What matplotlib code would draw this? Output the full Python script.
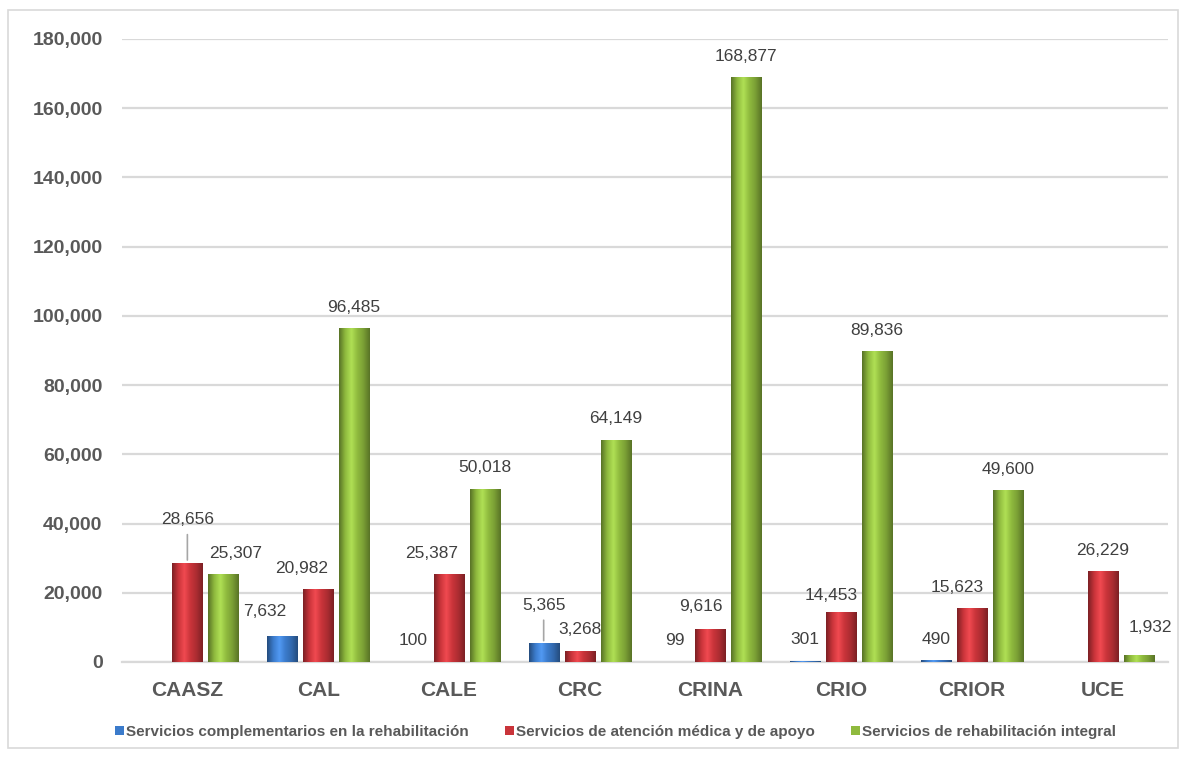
import numpy as np
import matplotlib.pyplot as plt
from matplotlib.colors import LinearSegmentedColormap, to_rgb
from matplotlib.patches import Rectangle

plt.rcParams['font.family'] = ['Liberation Sans', 'DejaVu Sans']

categories = ["CAASZ", "CAL", "CALE", "CRC", "CRINA", "CRIO", "CRIOR", "UCE"]
series_names = ["Servicios complementarios en la rehabilitación",
                "Servicios de atención médica y de apoyo",
                "Servicios de rehabilitación integral"]
complementarios = [0, 7632, 100, 5365, 99, 301, 490, 0]
atencion = [28656, 20982, 25387, 3268, 9616, 14453, 15623, 26229]
integral = [25307, 96485, 50018, 64149, 168877, 89836, 49600, 1932]
yticks = np.arange(0, 180001, 20000)

colors = ["#3b7bcb", "#c9343a", "#8fba3e"]
# label tweaks (dx, dy in pixels from bar top); leader lines where marked
label_adj = {(0, 1): (0, 43, True), (0, 2): (12, 21, False),
             (1, 0): (-17, 24, False), (1, 1): (-16, 21, False),
             (2, 1): (-17, 21, False), (3, 0): (0, 38, True),
             (4, 1): (-10, 22, False), (5, 1): (-10, 16, False),
             (6, 1): (-15, 20, False), (7, 2): (12, 28, False)}

fig = plt.figure(figsize=(11.88, 7.6), dpi=100)
ax = fig.add_axes([122/1188, 1-662/760, (1168-122)/1188, (662-39)/760])

x = np.arange(len(categories))
w = 0.23
step = 0.275
data = [complementarios, atencion, integral]


def shade(c):
    r = np.array(to_rgb(c))
    dark = r*0.62
    light = np.clip(r*1.12+0.06, 0, 1)
    return LinearSegmentedColormap.from_list("s", [dark, r, light, r, r*0.85, dark])


for i, vals in enumerate(data):
    bars = ax.bar(x+(i-1)*step, vals, width=w, color=colors[i],
                  edgecolor="none", zorder=3, label=series_names[i])
    cm = shade(colors[i])
    for j, b in enumerate(bars):
        v = vals[j]
        if v <= 0:
            continue
        grad = np.linspace(0, 1, 64).reshape(1, -1)
        im = ax.imshow(grad, cmap=cm, aspect="auto", zorder=3.5,
                       extent=(b.get_x(), b.get_x()+w, 0, v))
        im.set_clip_path(b)
        dx, dy, lead = label_adj.get((j, i), (0, 21, False))
        ax.annotate(f"{v:,}", (b.get_x()+w/2, v), xytext=(dx, dy),
                    textcoords="offset pixels", ha="center", va="center",
                    fontsize=12.5, color="#404040", zorder=5)
        if lead:
            ax.annotate("", (b.get_x()+w/2, v), xytext=(0, dy-12),
                        textcoords="offset pixels",
                        arrowprops=dict(arrowstyle="-", color="#a6a6a6", lw=1.2))

ax.set_xlim(-0.5, len(categories)-0.5)
ax.set_ylim(0, 180000)
ax.set_yticks(yticks)
ax.set_yticklabels([f"{t:,}" for t in yticks], fontsize=14,
                   fontweight="bold", color="#595959")
ax.set_xticks(x)
ax.set_xticklabels(categories, fontsize=15, fontweight="bold", color="#595959")
ax.tick_params(axis="both", length=0)
ax.tick_params(axis="y", pad=14)
ax.tick_params(axis="x", pad=14)
ax.grid(axis="y", color="#d9d9d9", lw=1.6, zorder=0)
for s in ["top", "right", "left"]:
    ax.spines[s].set_visible(False)
ax.spines["bottom"].set_color("#d9d9d9")
ax.spines["bottom"].set_linewidth(1.6)

fig.legend(loc="center", bbox_to_anchor=(0.518, 1-732/760), ncol=3,
           frameon=False, handlelength=0.6, handleheight=0.6,
           handletextpad=0.1, columnspacing=2.4,
           prop=dict(size=11, weight="bold"), labelcolor="#595959")

fig.patches.append(Rectangle((8/1188, 1-748/760), 1170/1188, 738/760,
                             transform=fig.transFigure, fill=False,
                             edgecolor="#d9d9d9", lw=1.2))

plt.savefig("out.png", dpi=100)
